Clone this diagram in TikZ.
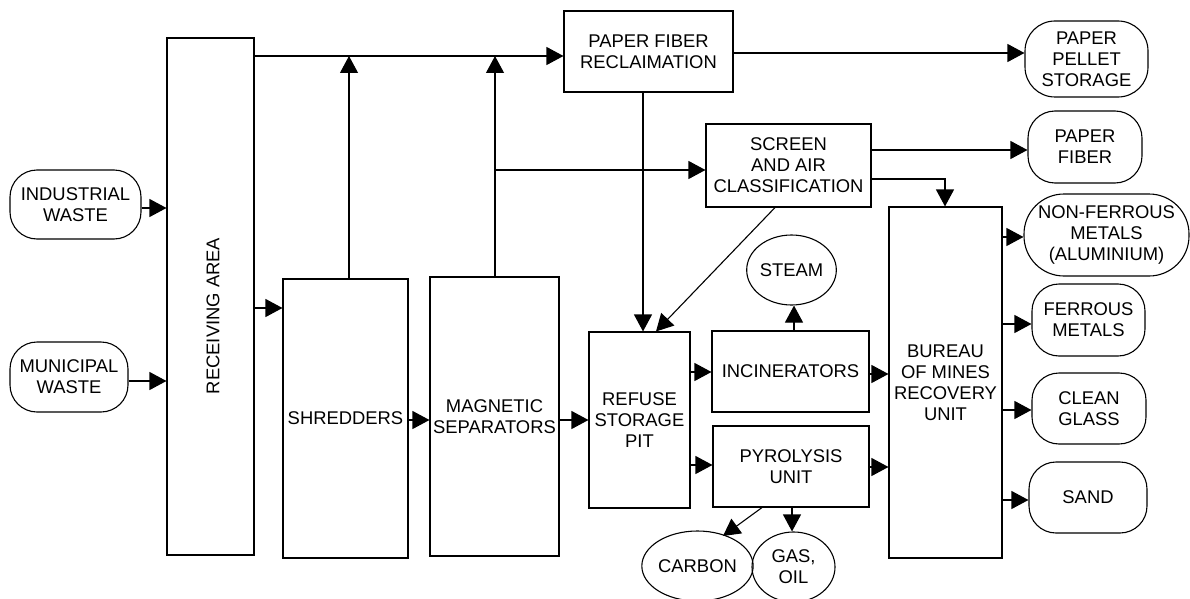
\documentclass[tikz,border=0pt]{standalone}
\usepackage{fontspec}
\setmainfont{Liberation Sans}
\usetikzlibrary{arrows.meta,shapes.geometric}
\begin{document}
\begin{tikzpicture}[x=1pt,y=-1pt,
  every node/.style={font=\fontsize{18.4}{21}\selectfont, align=center, inner sep=0pt, line width=1.1pt},
  box/.style={draw, rectangle},
  stad/.style={draw, rectangle, rounded corners=27pt},
  ell/.style={draw, ellipse},
  arr/.style={line width=1.1pt, -{Triangle[length=17pt,width=18pt]}},
  ln/.style={line width=1.1pt}]
\useasboundingbox (0,0) rectangle (1190,599);
% nodes
\node[box, minimum width=87pt, minimum height=517pt] (recv) at (210.5,296.5) {};
\node[rotate=90] (recvt) at (213,316) {RECEIVING AREA};
\node[stad, minimum width=131pt, minimum height=69pt] (indw) at (75.5,204.5) {INDUSTRIAL\\WASTE};
\node[stad, minimum width=118pt, minimum height=70pt] (munw) at (69,377) {MUNICIPAL\\WASTE};
\node[box, minimum width=125pt, minimum height=279pt] (shred) at (345.5,418.5) {SHREDDERS};
\node[box, minimum width=129pt, minimum height=279pt] (mag) at (494.5,416.5) {MAGNETIC\\SEPARATORS};
\node[box, minimum width=169pt, minimum height=81pt] (pfr) at (648.5,51.5) {PAPER FIBER\\RECLAIMATION};
\node[stad, minimum width=123pt, minimum height=76pt, rounded corners=30pt] (pps) at (1086.5,59) {PAPER\\PELLET\\STORAGE};
\node[box, minimum width=165pt, minimum height=83pt] (scr) at (788.5,165.5) {SCREEN\\AND AIR\\CLASSIFICATION};
\node[stad, minimum width=114pt, minimum height=72pt] (pfib) at (1085,147) {PAPER\\FIBER};
\node[box, minimum width=113pt, minimum height=351pt] (bur) at (945.5,382.5) {BUREAU\\OF MINES\\RECOVERY\\UNIT};
\node[stad, minimum width=165pt, minimum height=82pt, rounded corners=40pt] (nonf) at (1106.5,235) {NON-FERROUS\\METALS\\(ALUMINIUM)};
\node[stad, minimum width=113pt, minimum height=72pt] (ferr) at (1088.5,320) {FERROUS\\METALS};
\node[stad, minimum width=114pt, minimum height=71pt] (glass) at (1089,408.5) {CLEAN\\GLASS};
\node[stad, minimum width=118pt, minimum height=71pt] (sand) at (1088,497.5) {SAND};
\node[box, minimum width=101pt, minimum height=176pt] (ref) at (639.5,420) {REFUSE\\STORAGE\\PIT};
\node[box, minimum width=157pt, minimum height=81pt] (inc) at (790.5,371.5) {INCINERATORS};
\node[box, minimum width=156pt, minimum height=81pt] (pyr) at (791,466.5) {PYROLYSIS\\UNIT};
\node[ell, minimum width=87pt, minimum height=70pt] (steam) at (791.5,270) {STEAM};
\node[ell, minimum width=93pt, minimum height=70pt] (carb) at (697.5,566) {CARBON};
\node[ell, minimum width=83pt, minimum height=70pt] (gas) at (793.5,567) {GAS,\\OIL};
% junction coordinates
\coordinate (jtop) at (recv.east |- 0,56);
\coordinate (jshr) at (349,56);
\coordinate (jmag) at (495,56);
\coordinate (jscr) at (495,170);
\coordinate (jbur) at (945,179);
% connectors
\draw[arr] (indw.east |- 0,208) -- (recv.west |- 0,208);
\draw[arr] (munw.east |- 0,381) -- (recv.west |- 0,381);
\draw[arr] (recv.east |- 0,308) -- (shred.west |- 0,308);
\draw[arr] (jtop) -- (pfr.west |- jtop);
\draw[arr] (jshr |- shred.north) -- (jshr);
\draw[arr] (jmag |- mag.north) -- (jmag);
\draw[arr] (jscr) -- (scr.west |- jscr);
\draw[arr] (pfr.east |- 0,53) -- (pps.west |- 0,53);
\draw[arr] (pfr.south -| 643,0) -- (ref.north -| 643,0);
\draw[arr] (scr.east |- 0,150) -- (pfib.west |- 0,150);
\draw[arr] (scr.east |- jbur) -- (jbur) -- (jbur |- bur.north);
\draw[arr] (scr.south -| 775,0) -- (ref.north -| 656,0);
\draw[arr] (shred.east |- 0,420) -- (mag.west |- 0,420);
\draw[arr] (mag.east |- 0,420) -- (ref.west |- 0,420);
\draw[arr] (ref.east |- 0,372) -- (inc.west |- 0,372);
\draw[arr] (ref.east |- 0,465) -- (pyr.west |- 0,465);
\draw[arr] (inc.east |- 0,374) -- (bur.west |- 0,374);
\draw[arr] (pyr.east |- 0,467) -- (bur.west |- 0,467);
\draw[arr] (inc.north -| 794,0) -- (steam.south -| 794,0);
\draw[arr] (pyr.south -| 762,0) -- (723,536);
\draw[arr] (pyr.south -| 792,0) -- (gas.north -| 792,0);
\draw[arr] (bur.east |- 0,237) -- (nonf.west |- 0,237);
\draw[arr] (bur.east |- 0,324) -- (ferr.west |- 0,324);
\draw[arr] (bur.east |- 0,410) -- (glass.west |- 0,410);
\draw[arr] (bur.east |- 0,500) -- (sand.west |- 0,500);
\end{tikzpicture}
\end{document}
